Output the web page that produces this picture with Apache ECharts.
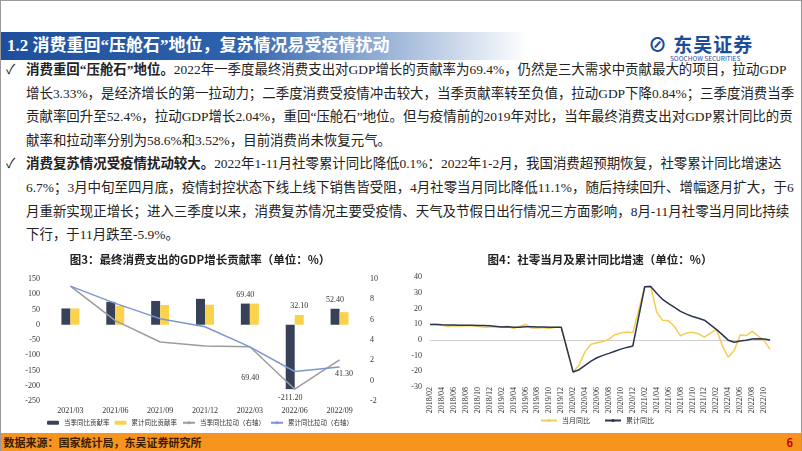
<!DOCTYPE html>
<html lang="zh">
<head>
<meta charset="UTF-8" />
<title>消费</title>
<script src="https://cdn.jsdelivr.net/npm/echarts@6/dist/echarts.min.js"></script>
<style>
  body { margin:0; width:802px; height:451px; overflow:hidden; background:#fff; font-family:"Liberation Serif","Noto Sans CJK SC", serif; position:relative; }
  #frame { position:absolute; left:0; top:0; width:800px; height:449px; border:1px solid #9a9a9a; }
  #head { position:absolute; left:1px; top:32px; width:520px; height:28px; background:linear-gradient(90deg,#1f4f9c 0%,#2e62ad 45%,rgba(255,255,255,0) 100%); color:#fff; font-size:17px; line-height:28px; padding-left:6px; font-weight:bold; }
  #logo { position:absolute; left:648px; top:30px; color:#1c4d9a; font-family:"Noto Sans CJK SC", sans-serif; }
  #logo .cn { font-size:19px; font-weight:bold; letter-spacing:1px; }
  #logo .en { font-size:6.5px; margin-top:-4px; margin-left:22px; }
  #text { position:absolute; left:6px; top:58px; width:790px; font-size:13.45px; line-height:23.6px; color:#222; }
  #text p { margin:0; padding-left:20px; text-indent:-20px; }
  #text b { font-weight:bold; }
  .ck { display:inline-block; width:20px; text-indent:0; }
  .ct { position:absolute; top:243px; width:400px; height:190px; }
  #foot { position:absolute; left:1px; top:433px; width:800px; height:18px; background:#f7941d; font-size:11px; line-height:18px; color:#3a1c00; font-weight:bold; font-family:"Noto Sans CJK SC", sans-serif; }
  #foot span { position:absolute; right:8px; color:#c00000; }
</style>
</head>
<body>
<div id="frame"></div>
<div id="head">1.2 消费重回“压舱石”地位，复苏情况易受疫情扰动</div>
<div id="logo"><div class="cn">⊘ 东吴证券</div><div class="en">SOOCHOW SECURITIES</div></div>
<div id="text">
<p><span class="ck">✓</span><b>消费重回“压舱石”地位。</b>2022年一季度最终消费支出对GDP增长的贡献率为69.4%，仍然是三大需求中贡献最大的项目，拉动GDP增长3.33%，是经济增长的第一拉动力；二季度消费受疫情冲击较大，当季贡献率转至负值，拉动GDP下降0.84%；三季度消费当季贡献率回升至52.4%，拉动GDP增长2.04%，重回“压舱石”地位。但与疫情前的2019年对比，当年最终消费支出对GDP累计同比的贡献率和拉动率分别为58.6%和3.52%，目前消费尚未恢复元气。</p>
<p><span class="ck">✓</span><b>消费复苏情况受疫情扰动较大。</b>2022年1-11月社零累计同比降低0.1%：2022年1-2月，我国消费超预期恢复，社零累计同比增速达6.7%；3月中旬至四月底，疫情封控状态下线上线下销售皆受阻，4月社零当月同比降低11.1%，随后持续回升、增幅逐月扩大，于6月重新实现正增长；进入三季度以来，消费复苏情况主要受疫情、天气及节假日出行情况三方面影响，8月-11月社零当月同比持续下行，于11月跌至-5.9%。</p>
</div>
<div id="c1" class="ct" style="left:0"></div>
<div id="c2" class="ct" style="left:400px"></div>
<div id="foot">&nbsp;数据来源：国家统计局，东吴证券研究所<span>6</span></div>
<script type="text/javascript">
// 图3 数据
var quarters = ['2021/03','2021/06','2021/09','2021/12','2022/03','2022/06','2022/09'];
var qContrib = [53.5, 75.0, 78.0, 85.0, 69.4, -211.2, 52.4];
var cumContrib = [53.5, 61.7, 64.8, 65.4, 69.4, 32.1, 41.3];
var qPull = [9.3, 5.9, 3.8, 3.4, 3.33, -0.84, 2.04];
var cumPull = [9.3, 7.6, 6.1, 5.3, 3.33, 0.9, 1.34];

// 图4 数据（每年1月无单独数据，用 null 连接）
var months = [];
for (var y = 2018; y <= 2022; y++) {
  for (var m = 1; m <= 12; m++) {
    if ((y === 2018 && m === 1) || (y === 2022 && m === 12)) continue;
    months.push(y + '/' + (m < 10 ? '0' + m : m));
  }
}
var monthYoy = [
  9.7,10.1,9.4,8.5,9.0,8.8,9.0,9.2,8.6,8.1,8.2,
  null,8.2,8.7,7.2,8.6,9.8,7.6,7.5,7.8,7.2,8.0,8.0,
  null,-20.5,-15.8,-7.5,-2.8,-1.8,-1.1,0.5,3.3,4.3,5.0,4.6,
  null,33.8,34.2,17.7,12.4,12.1,8.5,2.5,4.4,4.9,3.9,1.7,
  null,6.7,-3.5,-11.1,-6.7,3.1,2.7,5.4,2.5,-0.5,-5.9
];
var cumYoy = [
  9.7,9.8,9.6,9.5,9.4,9.3,9.3,9.3,9.2,9.1,9.0,
  null,8.2,8.3,8.0,8.1,8.4,8.3,8.2,8.2,8.1,8.0,8.0,
  null,-20.5,-19.0,-16.2,-13.5,-11.4,-9.9,-8.6,-7.2,-5.9,-4.8,-3.9,
  null,33.8,33.9,29.6,25.7,23.0,20.7,18.1,16.4,14.9,13.7,12.5,
  null,6.7,3.3,-0.2,-1.5,-0.7,-0.2,0.5,0.7,0.6,-0.1
];

var font = '"Noto Sans CJK SC", serif';
var axisTxt = { color:'#333', fontSize:8, fontFamily:'Liberation Serif' };

var chart1 = echarts.init(document.getElementById('c1'));
var lbl = function (pos, off) {
  return { show:true, position:pos, offset:off, fontSize:8, color:'#333', fontFamily:'Liberation Serif',
    formatter:function (p) { return p.value.toFixed(2); } };
};
chart1.setOption({
  animation:false,
  title:{ text:'图3：最终消费支出的GDP增长贡献率（单位：%）', left:'center', top:6,
    textStyle:{ fontSize:11.5, fontWeight:'bold', color:'#222', fontFamily:font } },
  grid:{ left:48, right:38, top:36, bottom:32 },
  legend:{ bottom:2, itemWidth:12, itemHeight:4, itemGap:5, textStyle:{ fontSize:6.5, color:'#333', fontFamily:font } },
  xAxis:{ type:'category', data:quarters, axisTick:{show:false}, axisLine:{show:false}, axisLabel:Object.assign({margin:6}, axisTxt) },
  yAxis:[
    { type:'value', min:-250, max:150, interval:50, splitLine:{show:false}, axisLabel:axisTxt },
    { type:'value', min:-2, max:10, interval:2, splitLine:{show:false}, axisLabel:axisTxt }
  ],
  series:[
    { name:'当季同比贡献率', type:'bar', data:qContrib.map(function (v, i) {
        return { value:v, label:(i >= 4 ? lbl(v < 0 ? 'bottom' : 'top', [0, 0]) : {show:false}) }; }),
      barWidth:9, barGap:'0%', itemStyle:{ color:'#37425a' } },
    { name:'累计同比贡献率', type:'bar', data:cumContrib.map(function (v, i) {
        var l = {show:false};
        if (i === 5) l = lbl('top', [0, 0]);
        if (i === 4) l = lbl('bottom', [-4, 44]);
        if (i === 6) l = lbl('bottom', [0, 40]);
        return { value:v, label:l }; }),
      barWidth:9, itemStyle:{ color:'#fbd24e' } },
    { name:'当季同比拉动（右轴）', type:'line', yAxisIndex:1, data:qPull, symbol:'none',
      lineStyle:{ color:'#9c9c9c', width:1.5 }, itemStyle:{ color:'#9c9c9c' } },
    { name:'累计同比拉动（右轴）', type:'line', yAxisIndex:1, data:cumPull, symbol:'none',
      lineStyle:{ color:'#7b97cf', width:1.5 }, itemStyle:{ color:'#7b97cf' } }
  ]
});

var chart2 = echarts.init(document.getElementById('c2'));
chart2.setOption({
  animation:false,
  title:{ text:'图4：社零当月及累计同比增速（单位：%）', left:'center', top:6,
    textStyle:{ fontSize:11.5, fontWeight:'bold', color:'#222', fontFamily:font } },
  grid:{ left:30, right:30, top:34, bottom:46 },
  legend:{ bottom:4, left:135, itemWidth:16, itemHeight:4, itemGap:14, textStyle:{ fontSize:7, color:'#333', fontFamily:font } },
  xAxis:{ type:'category', data:months, boundaryGap:false, axisTick:{show:false}, axisLine:{show:true, onZero:true, lineStyle:{color:'#d0d0d0'}},
    axisLabel:Object.assign({ interval:1, rotate:90, margin:0 }, axisTxt), position:'bottom' },
  yAxis:{ type:'value', min:-30, max:40, interval:10, splitLine:{show:false}, axisLabel:axisTxt },
  series:[
    { name:'当月同比', type:'line', data:monthYoy, symbol:'none', connectNulls:true,
      lineStyle:{ color:'#f6cd52', width:1.5 }, itemStyle:{ color:'#f6cd52' } },
    { name:'累计同比', type:'line', data:cumYoy, symbol:'none', connectNulls:true,
      lineStyle:{ color:'#2b3450', width:1.5 }, itemStyle:{ color:'#2b3450' } }
  ]
});
</script>
</body>
</html>
